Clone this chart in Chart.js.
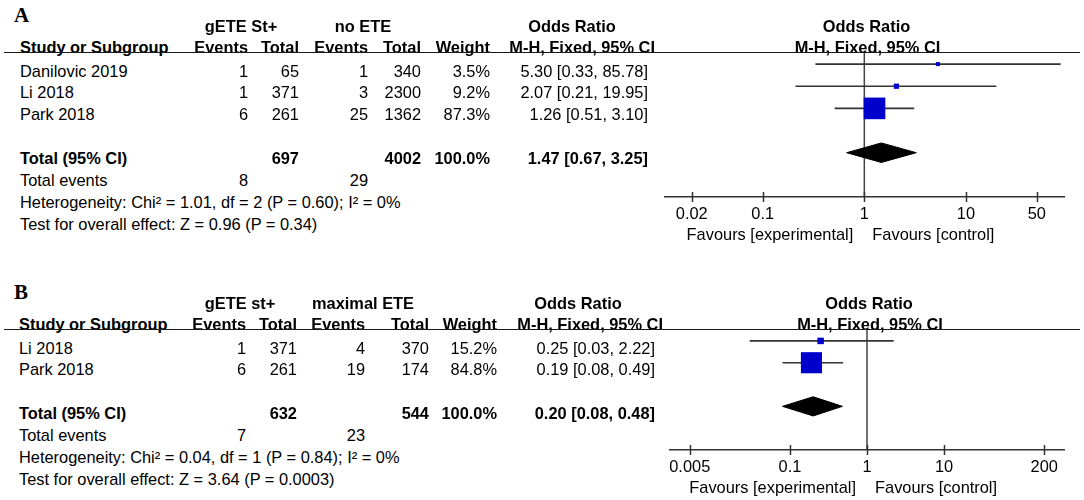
<!DOCTYPE html>
<html>
<head>
<meta charset="utf-8">
<title>Forest plots: gETE St+ vs no ETE / maximal ETE</title>
<script src="https://cdn.jsdelivr.net/npm/chart.js@4.4.1/dist/chart.umd.min.js"></script>
<style>
  html, body { margin: 0; padding: 0; background: #fff; }
  #fig {
    position: relative; width: 1084px; height: 500px; overflow: hidden;
    font-family: "Liberation Sans", Arial, sans-serif; font-size: 16.4px; color: #000;
  }
  .t { position: absolute; white-space: nowrap; line-height: 20px; height: 20px; }
  .b { font-weight: bold; }
  .r { text-align: right; width: 300px; }
  .c { text-align: center; width: 300px; }
  .letter { font-family: "Liberation Serif", "Times New Roman", serif; font-weight: bold; font-size: 21px; }
  .rule { position: absolute; height: 0; border-top: 1.5px solid #1a1a1a; }
  canvas { position: absolute; }
</style>
</head>
<body>
<div id="fig"></div>
<script>
// ---- panel A: gETE St+ vs no ETE ----
const studiesA = ['Danilovic 2019', 'Li 2018', 'Park 2018'];
const groupsA = ['gETE St+', 'no ETE'];
const expEventsA = [1, 1, 6];
const expTotalA = [65, 371, 261];
const ctrlEventsA = [1, 3, 25];
const ctrlTotalA = [340, 2300, 1362];
const weightA = [3.5, 9.2, 87.3];
const orA = [5.30, 2.07, 1.26];
const lowerA = [0.33, 0.21, 0.51];
const upperA = [85.78, 19.95, 3.10];
const pooledA = [1.47, 0.67, 3.25];      // estimate, lower, upper
const sumTotalA = [697, 4002];
const sumEventsA = [8, 29];
const hetA = 'Heterogeneity: Chi\u00b2 = 1.01, df = 2 (P = 0.60); I\u00b2 = 0%';
const testA = 'Test for overall effect: Z = 0.96 (P = 0.34)';
const tickValsA = [0.02, 0.1, 1, 10, 50];
const tickLabelsA = ['0.02', '0.1', '1', '10', '50'];

// ---- panel B: gETE st+ vs maximal ETE ----
const studiesB = ['Li 2018', 'Park 2018'];
const groupsB = ['gETE st+', 'maximal ETE'];
const expEventsB = [1, 6];
const expTotalB = [371, 261];
const ctrlEventsB = [4, 19];
const ctrlTotalB = [370, 174];
const weightB = [15.2, 84.8];
const orB = [0.25, 0.19];
const lowerB = [0.03, 0.08];
const upperB = [2.22, 0.49];
const pooledB = [0.20, 0.08, 0.48];
const sumTotalB = [632, 544];
const sumEventsB = [7, 23];
const hetB = 'Heterogeneity: Chi\u00b2 = 0.04, df = 1 (P = 0.84); I\u00b2 = 0%';
const testB = 'Test for overall effect: Z = 3.64 (P = 0.0003)';
const tickValsB = [0.005, 0.1, 1, 10, 200];
const tickLabelsB = ['0.005', '0.1', '1', '10', '200'];

// ---- layout (positions only) ----
const layoutA = {
    letter: 'A', rule: 53,
    cols: { name: 20, e1: 248, t1: 299, e2: 368, t2: 421, w: 490, orHead: 655, orVal: 648, g1: 241, g2: 363, g3: 572 },
    canvas: { left: 600, top: 0, w: 484, h: 250, pad: { left: 65, right: 20, top: 53, bottom: 0 }, axisH: 53 },
    range: [0.0109, 92.5]
};
const layoutB = {
    letter: 'B', rule: 330,
    cols: { name: 19, e1: 246, t1: 297, e2: 365, t2: 429, w: 497, orHead: 663, orVal: 655, g1: 240, g2: 363, g3: 578 },
    canvas: { left: 600, top: 270, w: 484, h: 230, pad: { left: 70, right: 20, top: 60, bottom: 0 }, axisH: 50 },
    range: [0.00277, 361]
};

const fig = document.getElementById('fig');
const ROW = 21.9;
const FONT = 16.4;

Chart.defaults.font.family = "'Liberation Sans', Arial, sans-serif";
Chart.defaults.font.size = FONT;
Chart.defaults.color = '#000';

function put(text, x, y, cls) {
    const el = document.createElement('div');
    el.className = 't ' + (cls || '');
    el.textContent = text;
    let left = x;
    if (/\br\b/.test(cls || '')) left = x - 300;
    if (/\bc\b/.test(cls || '')) left = x - 150;
    el.style.left = left + 'px';
    el.style.top = (y - 10) + 'px';
    fig.appendChild(el);
}

function pct(w) { return w.toFixed(1) + '%'; }
function ci(e, lo, hi) { return e.toFixed(2) + ' [' + lo.toFixed(2) + ', ' + hi.toFixed(2) + ']'; }

function drawTable(d, L) {
    const c = L.cols;
    const rowY = function(i) { return L.rule + 17.5 + (i - 1) * ROW; };
    const n = d.studies.length;

    put(L.letter, 14, L.rule - 38, 'letter');
    put(d.groups[0], c.g1, L.rule - 27, 'b c');
    put(d.groups[1], c.g2, L.rule - 27, 'b c');
    put('Odds Ratio', c.g3, L.rule - 27, 'b c');

    put('Study or Subgroup', c.name, L.rule - 6, 'b');
    put('Events', c.e1, L.rule - 6, 'b r');
    put('Total', c.t1, L.rule - 6, 'b r');
    put('Events', c.e2, L.rule - 6, 'b r');
    put('Total', c.t2, L.rule - 6, 'b r');
    put('Weight', c.w, L.rule - 6, 'b r');
    put('M-H, Fixed, 95% CI', c.orHead, L.rule - 6, 'b r');

    const rule = document.createElement('div');
    rule.className = 'rule';
    rule.style.left = '4px';
    rule.style.width = '1076px';
    rule.style.top = (L.rule - 0.75) + 'px';
    fig.appendChild(rule);

    d.studies.forEach(function(s, i) {
        const y = rowY(i + 1);
        put(s, c.name, y);
        put(String(d.expEvents[i]), c.e1, y, 'r');
        put(String(d.expTotal[i]), c.t1, y, 'r');
        put(String(d.ctrlEvents[i]), c.e2, y, 'r');
        put(String(d.ctrlTotal[i]), c.t2, y, 'r');
        put(pct(d.weight[i]), c.w, y, 'r');
        put(ci(d.or[i], d.lower[i], d.upper[i]), c.orVal, y, 'r');
    });

    const yt = rowY(n + 2);
    put('Total (95% CI)', c.name, yt, 'b');
    put(String(d.sumTotal[0]), c.t1, yt, 'b r');
    put(String(d.sumTotal[1]), c.t2, yt, 'b r');
    put(pct(100), c.w, yt, 'b r');
    put(ci(d.pooled[0], d.pooled[1], d.pooled[2]), c.orVal, yt, 'b r');

    put('Total events', c.name, rowY(n + 3));
    put(String(d.sumEvents[0]), c.e1, rowY(n + 3), 'r');
    put(String(d.sumEvents[1]), c.e2, rowY(n + 3), 'r');
    put(d.het, c.name, rowY(n + 4));
    put(d.test, c.name, rowY(n + 5));
}

// tick marks that cross the axis line, as in RevMan
const crossTicks = {
    id: 'crossTicks',
    afterDraw: function(chart) {
        const xs = chart.scales.x;
        const y = chart.chartArea.bottom;
        const ctx = chart.ctx;
        ctx.save();
        ctx.strokeStyle = '#333';
        ctx.lineWidth = 1.5;
        ctx.beginPath();
        xs.ticks.forEach(function(t) {
            const px = Math.round(xs.getPixelForValue(t.value)) + 0.5;
            ctx.moveTo(px, y - 5);
            ctx.lineTo(px, y + 5);
        });
        ctx.stroke();
        ctx.restore();
    }
};

function makePlot(d, L) {
    const C = L.canvas;
    const canvas = document.createElement('canvas');
    canvas.width = C.w;
    canvas.height = C.h;
    canvas.style.left = C.left + 'px';
    canvas.style.top = C.top + 'px';
    fig.appendChild(canvas);

    const n = d.studies.length;
    const totalRow = n + 2;
    const yMax = n + 4;
    const datasets = [];

    // study squares, side grows with weight
    datasets.push({
        type: 'line', showLine: false, order: 0,
        data: d.or.map(function(v, i) { return { x: v, y: i + 1 }; }),
        pointStyle: 'rect',
        pointRadius: d.weight.map(function(w) { return (3.3 + 0.21 * w) / Math.SQRT2; }),
        pointBackgroundColor: '#0000CC',
        pointBorderWidth: 0
    });

    // pooled diamond
    const h = 0.44;
    datasets.push({
        type: 'line', order: 1,
        data: [
            { x: d.pooled[1], y: totalRow },
            { x: d.pooled[0], y: totalRow - h },
            { x: d.pooled[2], y: totalRow },
            { x: d.pooled[0], y: totalRow + h },
            { x: d.pooled[1], y: totalRow }
        ],
        borderColor: '#000', borderWidth: 1, backgroundColor: '#000',
        fill: 'shape', tension: 0, pointRadius: 0
    });

    // confidence intervals
    d.studies.forEach(function(s, i) {
        datasets.push({
            type: 'line', order: 2,
            data: [{ x: d.lower[i], y: i + 1 }, { x: d.upper[i], y: i + 1 }],
            borderColor: '#333', borderWidth: 1.6, pointRadius: 0, fill: false
        });
    });

    // line of no effect
    datasets.push({
        type: 'line', order: 3,
        data: [{ x: 1, y: 0.5 }, { x: 1, y: yMax }],
        borderColor: '#444', borderWidth: 1.5, pointRadius: 0, fill: false
    });

    const chart = new Chart(canvas.getContext('2d'), {
        type: 'line',
        data: { datasets: datasets },
        options: {
            responsive: false,
            animation: false,
            events: [],
            layout: { padding: C.pad },
            plugins: { legend: { display: false }, tooltip: { enabled: false }, title: { display: false } },
            scales: {
                x: {
                    type: 'logarithmic',
                    min: L.range[0], max: L.range[1],
                    afterBuildTicks: function(scale) {
                        scale.ticks = d.tickVals.map(function(v) { return { value: v }; });
                    },
                    afterFit: function(scale) { scale.height = C.axisH; },
                    grid: { display: false, drawTicks: false },
                    border: { display: true, color: '#333', width: 1.5 },
                    ticks: {
                        autoSkip: false, maxRotation: 0, padding: 8,
                        font: { size: FONT }, color: '#000',
                        callback: function(v, i) { return d.tickLabels[i]; }
                    }
                },
                y: { type: 'linear', display: false, reverse: true, min: 0.5, max: yMax }
            }
        },
        plugins: [crossTicks]
    });

    const area = chart.chartArea;
    const x1 = C.left + chart.scales.x.getPixelForValue(1);
    const mid = C.left + (area.left + area.right) / 2;
    const axisY = C.top + area.bottom;
    put('Odds Ratio', mid + 2, L.rule - 27, 'b c');
    put('M-H, Fixed, 95% CI', mid + 3, L.rule - 6, 'b c');
    put('Favours [experimental]', x1 - 11, axisY + 37, 'r');
    put('Favours [control]', x1 + 8, axisY + 37);
    return chart;
}

const panelA = {
    studies: studiesA, groups: groupsA, expEvents: expEventsA, expTotal: expTotalA,
    ctrlEvents: ctrlEventsA, ctrlTotal: ctrlTotalA, weight: weightA, or: orA,
    lower: lowerA, upper: upperA, pooled: pooledA, sumTotal: sumTotalA, sumEvents: sumEventsA,
    het: hetA, test: testA, tickVals: tickValsA, tickLabels: tickLabelsA
};
const panelB = {
    studies: studiesB, groups: groupsB, expEvents: expEventsB, expTotal: expTotalB,
    ctrlEvents: ctrlEventsB, ctrlTotal: ctrlTotalB, weight: weightB, or: orB,
    lower: lowerB, upper: upperB, pooled: pooledB, sumTotal: sumTotalB, sumEvents: sumEventsB,
    het: hetB, test: testB, tickVals: tickValsB, tickLabels: tickLabelsB
};

makePlot(panelA, layoutA);
makePlot(panelB, layoutB);
drawTable(panelA, layoutA);
drawTable(panelB, layoutB);
</script>
</body>
</html>
